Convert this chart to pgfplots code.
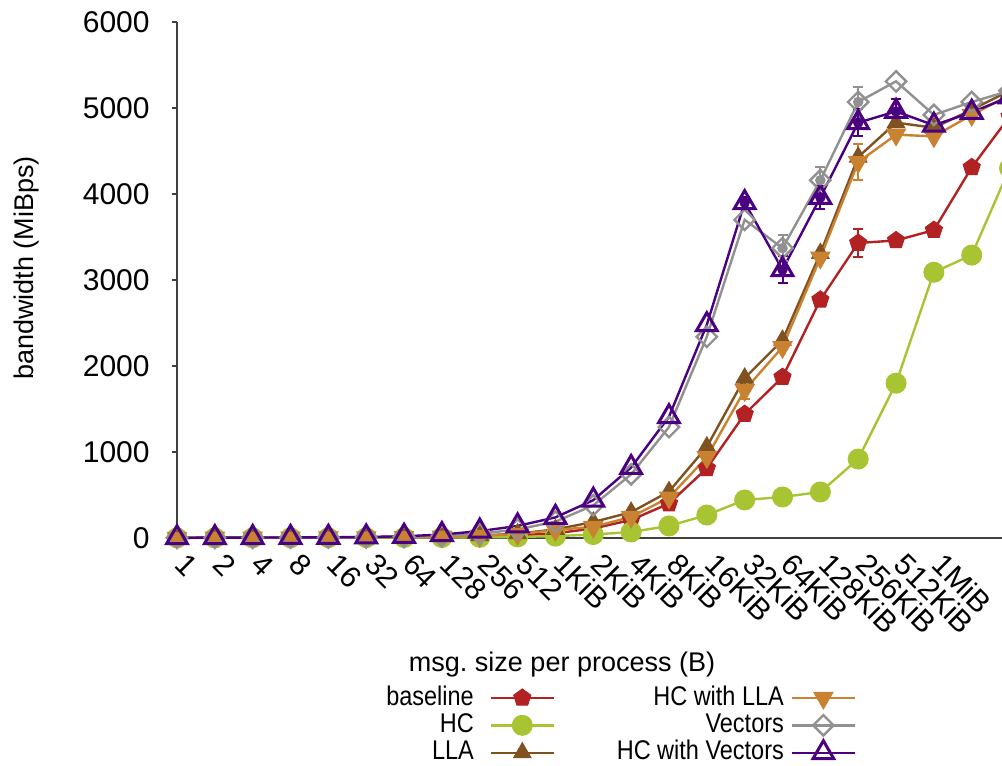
\documentclass[border=0pt]{standalone}
\usepackage{fontspec}
\setmainfont{Liberation Sans}
\newfontfamily\legfont[FakeStretch=0.87]{Liberation Sans}
\usepackage{pgfplots}
\pgfplotsset{compat=1.18}
\usepackage{pgfplotstable}

\definecolor{cbase}{RGB}{178,34,34}
\definecolor{chc}{RGB}{168,196,50}
\definecolor{clla}{RGB}{128,82,32}
\definecolor{chclla}{RGB}{200,130,50}
\definecolor{cvec}{RGB}{145,145,145}
\definecolor{chcvec}{RGB}{75,0,130}
\definecolor{caxis}{RGB}{64,64,64}

\pgfplotstableread{
x  base  hc    lla   hclla vec   hcvec
0  2     1     2     2     3     3
1  3     1     3     3     4     4
2  4     2     4     4     5     5
3  5     2     5     5     6     6
4  6     3     6     6     8     8
5  8     4     8     8     10    12
6  10    5     12    11    15    20
7  14    6     18    16    25    40
8  18    8     28    25    50    80
9  30    12    50    45    100   140
10 55    22    100   93    190   240
11 110   40    186   130   380   440
12 210   70    300   245   740   820
13 400   140   540   470   1290  1410
14 810   267   1060  940   2340  2480
15 1440  442   1860  1720  3700  3900
16 1870  477   2300  2220  3370  3120
17 2770  535   3310  3260  4160  3960
18 3430  918   4430  4370  5070  4830
19 3460  1800  4830  4690  5310  4960
20 3580  3090  4770  4670  4920  4800
21 4310  3290  4980  4920  5070  4950
22 4900  4300  5200  5150  5200  5130
}\data

\begin{document}
\begin{tikzpicture}
\path[use as bounding box] (-88.5pt,-114pt) rectangle (412.5pt,269pt);
\begin{axis}[
  at={(0,0)}, anchor=south west,
  width=412.5pt, height=258pt, scale only axis,
  font=\fontsize{13.5}{16}\selectfont,
  clip=false,
  xmin=0, xmax=21.8, ymin=0, ymax=6000,
  axis lines*=left,
  axis line style={draw=caxis, line width=0.6pt},
  ytick={0,1000,...,6000},
  xtick={0,...,20},
  xticklabels={1,2,4,8,16,32,64,128,256,512,1KiB,2KiB,4KiB,8KiB,16KiB,32KiB,64KiB,128KiB,256KiB,512KiB,1MiB},
  xtick style={draw=none},
  ytick style={draw=caxis, line width=0.6pt},
  tick align=outside, major tick length=2.5pt,
  /pgf/number format/1000 sep={},
  /pgf/number format/assume math mode=true,
  tick label style={font=\fontsize{15}{17}\selectfont},
  x tick label style={xshift=2pt, yshift=-8pt, rotate=-45, anchor=west, inner sep=0pt},
  y tick label style={inner sep=0pt, xshift=-11pt},
  ylabel={bandwidth (MiBps)},
  ylabel style={at={(axis description cs:-0.1818,0.523)}, anchor=center},
  xlabel={msg.\ size per process (B)},
  xlabel style={at={(axis description cs:0.4667,-0.246)}, anchor=center},
  every axis plot/.append style={line width=1.2pt},
  legend style={draw=none, fill=none, inner sep=0pt,
    font=\legfont\fontsize{13.5}{16}\selectfont,
    at={(axis description cs:0.252,-0.283)}, anchor=north west,
    nodes={inner sep=0.5pt, text height=9.8pt, text depth=2.7pt},
    row sep=0.2pt,
    /tikz/column 1/.style={column sep=7.5pt},
    /tikz/column 2/.style={column sep=30.5pt},
    /tikz/column 3/.style={column sep=3pt}},
  legend cell align=right,
  legend plot pos=right,
  transpose legend,
  legend columns=3,
  legend image code/.code={
    \draw[mark repeat=2,mark phase=2] plot coordinates {(0cm,0cm) (0.55cm,0cm) (1.1cm,0cm)};
  },
]
\addplot[color=cbase, mark=pentagon*, mark size=4.5pt, mark options={fill=cbase, line width=0.5pt}] table[x=x,y=base]{\data};
\addlegendentry{baseline}
\addplot[color=chc, mark=*, mark size=5pt, mark options={fill=chc, line width=0.5pt}] table[x=x,y=hc]{\data};
\addlegendentry{HC}
\addplot[color=clla, mark=triangle*, mark size=5pt, mark options={fill=clla, line width=0.5pt}] table[x=x,y=lla]{\data};
\addlegendentry{LLA}
\addplot[color=chclla, mark=triangle*, mark size=5.5pt, mark options={fill=chclla, rotate=180, line width=0.5pt}] table[x=x,y=hclla]{\data};
\addlegendentry{HC with LLA}
\addplot[color=cvec, mark=square, mark size=3.6pt, mark options={rotate=45, line width=1.2pt, fill=white}] table[x=x,y=vec]{\data};
\addlegendentry{Vectors}
\addplot[color=chcvec, mark=triangle, mark size=6pt, mark options={line width=1.5pt, fill=none}] table[x=x,y=hcvec]{\data};
\addlegendentry{HC with Vectors}

% error bars
\addplot[forget plot, only marks, mark=none, color=cbase,
  error bars/.cd, y dir=both, y explicit,
  error bar style={draw=cbase, line width=1pt},
  error mark options={rotate=90, mark size=2.5pt, draw=cbase, line width=1pt}]
  coordinates {(18,3430) +- (0,160)};
\addplot[forget plot, only marks, mark=none, color=chclla,
  error bars/.cd, y dir=both, y explicit,
  error bar style={draw=chclla, line width=1pt},
  error mark options={rotate=90, mark size=2.5pt, draw=chclla, line width=1pt}]
  coordinates {(18,4370) +- (0,210) (15,1720) +- (0,100)};
\addplot[forget plot, only marks, mark=none, color=cvec,
  error bars/.cd, y dir=both, y explicit,
  error bar style={draw=cvec, line width=1pt},
  error mark options={rotate=90, mark size=2.5pt, draw=cvec, line width=1pt}]
  coordinates {(16,3370) +- (0,150) (17,4160) +- (0,150) (18,5070) +- (0,170)};
\addplot[forget plot, only marks, mark=none, color=chcvec,
  error bars/.cd, y dir=both, y explicit,
  error bar style={draw=chcvec, line width=1pt},
  error mark options={rotate=90, mark size=2.5pt, draw=chcvec, line width=1pt}]
  coordinates {(15,3900) +- (0,60) (16,3120) +- (0,160) (17,3960) +- (0,130) (18,4830) +- (0,160) (19,4960) +- (0,150)};
\end{axis}
\end{tikzpicture}
\end{document}
